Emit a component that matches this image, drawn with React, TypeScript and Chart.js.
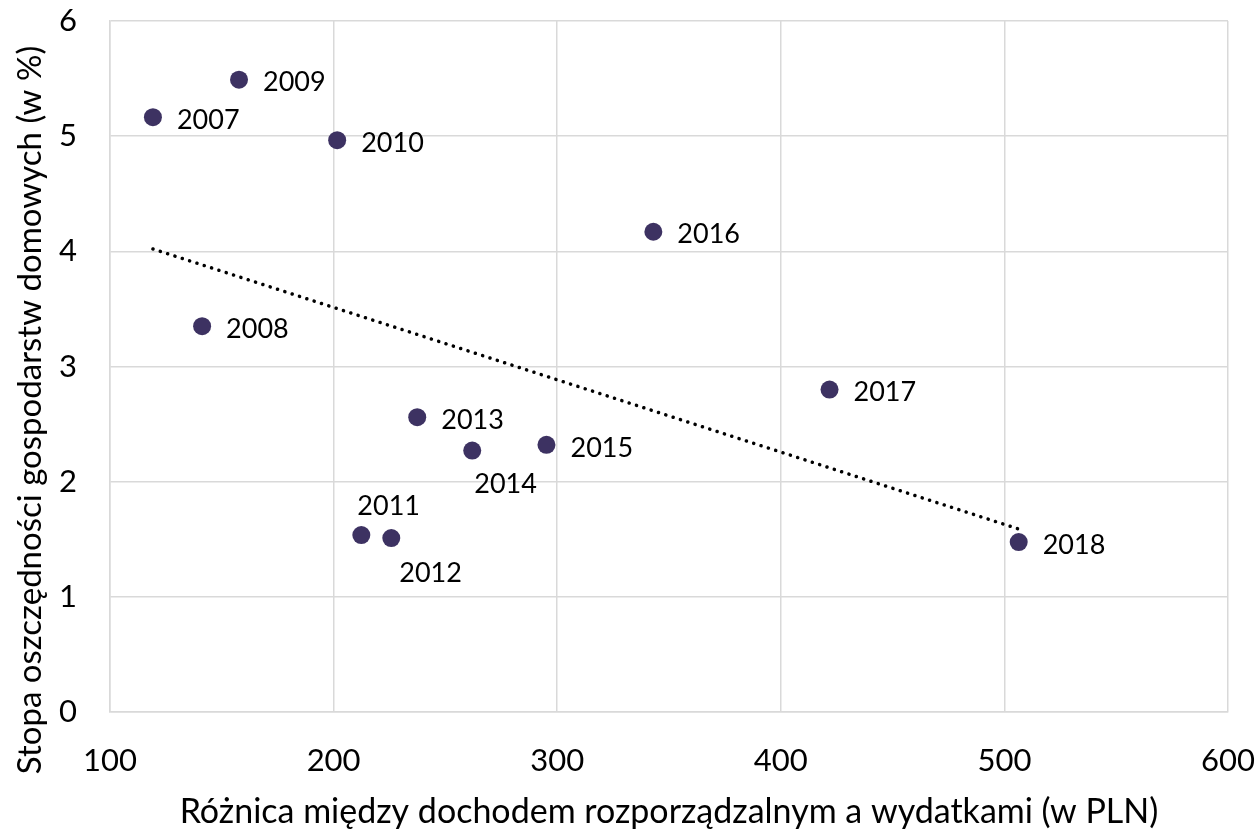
import React, { useEffect, useRef } from "react";
import { Chart, registerables } from "chart.js";

Chart.register(...registerables);

const years = ["2007", "2008", "2009", "2010", "2011", "2012", "2013", "2014", "2015", "2016", "2017", "2018"];
const xValues = [119.2, 141.2, 157.7, 201.6, 212.4, 225.8, 237.4, 262, 295.2, 343, 421.8, 506.4];
const yValues = [5.165, 3.35, 5.49, 4.965, 1.536, 1.51, 2.56, 2.27, 2.32, 4.17, 2.8, 1.476];
const labelPlacement = ["right", "right", "right", "right", "above", "belowRight", "right", "below", "right", "right", "right", "right"];
const xTitle = "Różnica między dochodem rozporządzalnym a wydatkami (w PLN)";
const yTitle = "Stopa oszczędności gospodarstw domowych (w %)";

const FONT = "Lato, 'Open Sans', sans-serif";
const POINT_COLOR = "#3d3262";
const GRID = "#d9d9d9";

function trend() {
  const n = xValues.length;
  const mx = xValues.reduce((a, b) => a + b, 0) / n;
  const my = yValues.reduce((a, b) => a + b, 0) / n;
  let sxy = 0, sxx = 0;
  for (let i = 0; i < n; i++) {
    sxy += (xValues[i] - mx) * (yValues[i] - my);
    sxx += (xValues[i] - mx) ** 2;
  }
  const slope = sxy / sxx;
  const icpt = my - slope * mx;
  const x0 = Math.min(...xValues);
  const x1 = Math.max(...xValues);
  return [
    { x: x0, y: icpt + slope * x0 },
    { x: x1, y: icpt + slope * x1 },
  ];
}

const labelPlugin = {
  id: "yearLabels",
  afterDatasetsDraw(chart: any) {
    const meta = chart.getDatasetMeta(1);
    const ctx = chart.ctx;
    ctx.save();
    ctx.font = `27px ${FONT}`;
    ctx.fillStyle = "#000";
    ctx.textBaseline = "middle";
    ctx.textAlign = "left";
    meta.data.forEach((pt: any, i: number) => {
      const p = labelPlacement[i];
      let dx = 24, dy = 3;
      if (p === "above") { dx = -4; dy = -29; }
      else if (p === "belowRight") { dx = 8; dy = 35; }
      else if (p === "below") { dx = 2; dy = 34; }
      ctx.fillText(years[i], pt.x + dx, pt.y + dy);
    });
    ctx.restore();
  },
};

const yTitlePlugin = {
  id: "yTitle",
  afterDraw(chart: any) {
    const ctx = chart.ctx;
    ctx.save();
    ctx.translate(30, 410);
    ctx.rotate(-Math.PI / 2);
    ctx.font = `33px ${FONT}`;
    ctx.fillStyle = "#000";
    ctx.textAlign = "center";
    ctx.textBaseline = "middle";
    ctx.fillText(yTitle, 0, 0);
    ctx.restore();
  },
};

export default function App() {
  const ref = useRef<HTMLCanvasElement | null>(null);
  useEffect(() => {
    if (!ref.current) return;
    const chart = new Chart(ref.current, {
      type: "scatter",
      data: {
        datasets: [
          {
            type: "line",
            data: trend(),
            borderColor: "#000",
            borderWidth: 3.5,
            borderDash: [0.1, 7.6],
            borderCapStyle: "round",
            pointRadius: 0,
            fill: false,
          } as any,
          {
            data: xValues.map((x, i) => ({ x, y: yValues[i] })),
            backgroundColor: POINT_COLOR,
            borderColor: POINT_COLOR,
            pointRadius: 9,
            pointBorderWidth: 0,
          },
        ],
      },
      options: {
        animation: false,
        responsive: false,
        maintainAspectRatio: false,
        layout: { padding: { top: 21, right: 30, left: 0, bottom: 0 } },
        plugins: { legend: { display: false }, tooltip: { enabled: false } },
        scales: {
          x: {
            type: "linear",
            min: 100,
            max: 600,
            afterFit: (s: any) => { s.height = 121; },
            ticks: { stepSize: 100, color: "#000", font: { family: FONT, size: 31 }, padding: 0 },
            grid: { color: GRID, lineWidth: 1.5, drawTicks: true, tickLength: 30, tickColor: "rgba(0,0,0,0)" },
            border: { color: GRID, width: 1.5 },
            title: { display: true, text: xTitle, color: "#000", font: { family: FONT, size: 34 }, padding: { top: 0, bottom: 1 } },
          },
          y: {
            type: "linear",
            min: 0,
            max: 6,
            afterFit: (s: any) => { s.width = 110; },
            ticks: { stepSize: 1, color: "#000", font: { family: FONT, size: 31 }, padding: 0 },
            grid: { color: GRID, lineWidth: 1.5, drawTicks: true, tickLength: 33, tickColor: "rgba(0,0,0,0)" },
            border: { color: GRID, width: 1.5 },
            title: { display: false },
          },
        },
      },
      plugins: [labelPlugin, yTitlePlugin],
    });
    return () => chart.destroy();
  }, []);
  return (
    <div style={{ position: "fixed", left: 0, top: 0, width: 1258, height: 833, background: "#fff" }}>
      <canvas ref={ref} width={1258} height={833} />
    </div>
  );
}
